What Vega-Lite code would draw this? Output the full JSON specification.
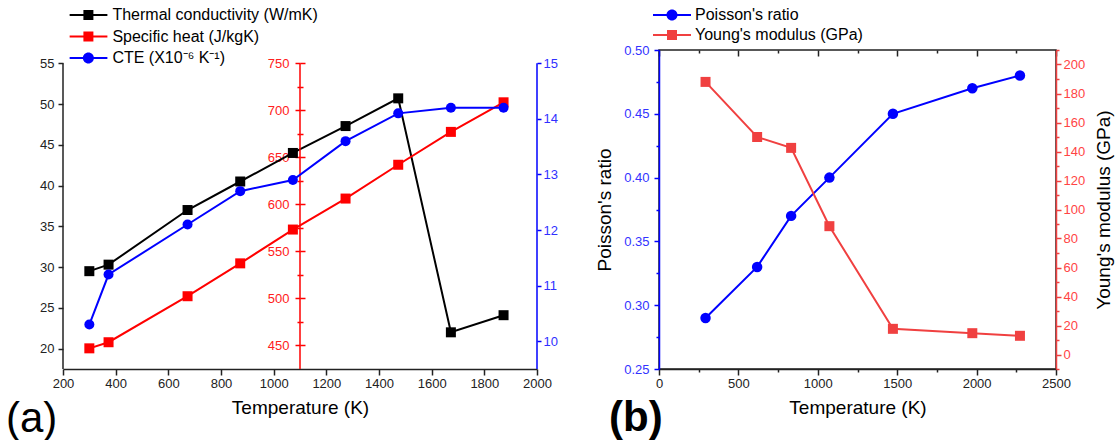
{
  "$schema": "https://vega.github.io/schema/vega-lite/v6.json",
  "padding": {"left": 6, "top": 4, "right": 0, "bottom": 0},
  "spacing": 36,
  "resolve": {"scale": {"color": "independent", "shape": "independent"}, "legend": {"color": "independent", "shape": "independent"}},
  "config": {
    "font": "Liberation Sans",
    "axis": {"grid": false, "labelFontSize": 13, "titleFontSize": 19, "titleFontWeight": "normal", "domainWidth": 1.5, "tickWidth": 1.5, "labelFlush": false, "labelOverlap": false},
    "legend": {"labelFont": "Liberation Sans", "labelLimit": 0}
  },
  "datasets": {
    "a": [
      {"T": 300, "series": "Thermal conductivity (W/mK)", "v": 29.5},
      {"T": 373, "series": "Thermal conductivity (W/mK)", "v": 30.3},
      {"T": 673, "series": "Thermal conductivity (W/mK)", "v": 37.0},
      {"T": 873, "series": "Thermal conductivity (W/mK)", "v": 40.5},
      {"T": 1073, "series": "Thermal conductivity (W/mK)", "v": 44.0},
      {"T": 1273, "series": "Thermal conductivity (W/mK)", "v": 47.3},
      {"T": 1473, "series": "Thermal conductivity (W/mK)", "v": 50.7},
      {"T": 1673, "series": "Thermal conductivity (W/mK)", "v": 22.0},
      {"T": 1873, "series": "Thermal conductivity (W/mK)", "v": 24.1},
      {"T": 300, "series": "Specific heat (J/kgK)", "v": 446.5},
      {"T": 373, "series": "Specific heat (J/kgK)", "v": 453},
      {"T": 673, "series": "Specific heat (J/kgK)", "v": 502},
      {"T": 873, "series": "Specific heat (J/kgK)", "v": 537},
      {"T": 1073, "series": "Specific heat (J/kgK)", "v": 573},
      {"T": 1273, "series": "Specific heat (J/kgK)", "v": 606},
      {"T": 1473, "series": "Specific heat (J/kgK)", "v": 642},
      {"T": 1673, "series": "Specific heat (J/kgK)", "v": 677},
      {"T": 1873, "series": "Specific heat (J/kgK)", "v": 708.5},
      {"T": 300, "series": "CTE (X10⁻⁶ K⁻¹)", "v": 10.3},
      {"T": 373, "series": "CTE (X10⁻⁶ K⁻¹)", "v": 11.2},
      {"T": 673, "series": "CTE (X10⁻⁶ K⁻¹)", "v": 12.1},
      {"T": 873, "series": "CTE (X10⁻⁶ K⁻¹)", "v": 12.7},
      {"T": 1073, "series": "CTE (X10⁻⁶ K⁻¹)", "v": 12.9},
      {"T": 1273, "series": "CTE (X10⁻⁶ K⁻¹)", "v": 13.6},
      {"T": 1473, "series": "CTE (X10⁻⁶ K⁻¹)", "v": 14.1},
      {"T": 1673, "series": "CTE (X10⁻⁶ K⁻¹)", "v": 14.2},
      {"T": 1873, "series": "CTE (X10⁻⁶ K⁻¹)", "v": 14.2}
    ],
    "b": [
      {"T": 293, "series": "Poisson's ratio", "v": 0.29},
      {"T": 618, "series": "Poisson's ratio", "v": 0.33},
      {"T": 832, "series": "Poisson's ratio", "v": 0.37},
      {"T": 1073, "series": "Poisson's ratio", "v": 0.40},
      {"T": 1473, "series": "Poisson's ratio", "v": 0.45},
      {"T": 1973, "series": "Poisson's ratio", "v": 0.47},
      {"T": 2273, "series": "Poisson's ratio", "v": 0.48},
      {"T": 293, "series": "Young's modulus (GPa)", "v": 188},
      {"T": 618, "series": "Young's modulus (GPa)", "v": 150},
      {"T": 832, "series": "Young's modulus (GPa)", "v": 142.5},
      {"T": 1073, "series": "Young's modulus (GPa)", "v": 88.5},
      {"T": 1473, "series": "Young's modulus (GPa)", "v": 17.7},
      {"T": 1973, "series": "Young's modulus (GPa)", "v": 14.7},
      {"T": 2273, "series": "Young's modulus (GPa)", "v": 12.9}
    ]
  },
  "hconcat": [
    {
      "width": 474,
      "height": 319,
      "view": {"stroke": null},
      "data": {"name": "a"},
      "title": {"text": "(a)", "orient": "bottom", "anchor": "start", "frame": "group", "fontSize": 42, "fontWeight": "normal", "dx": -57, "offset": -18, "color": "#000"},
      "layer": [
        {
          "layer": [
            {
              "transform": [{"filter": "datum.series === 'Thermal conductivity (W/mK)'"}],
              "mark": {"type": "line", "color": "#000", "strokeWidth": 2, "point": {"shape": "square", "size": 100, "filled": true, "color": "#000"}},
              "encoding": {
                "x": {"field": "T", "type": "quantitative", "scale": {"domain": [200, 2000], "nice": false, "zero": false},
                  "axis": {"title": "Temperature (K)", "titlePadding": 8, "format": "d", "values": [200,300,400,500,600,700,800,900,1000,1100,1200,1300,1400,1500,1600,1700,1800,1900,2000],
                    "labelExpr": "datum.value % 200 === 0 ? datum.label : ''",
                    "tickSize": {"condition": {"test": "datum.value % 200 === 0", "value": 6}, "value": 3},
                    "labelPadding": 2, "domainColor": "#222", "tickColor": "#222", "labelColor": "#222", "titleColor": "#000"}},
                "y": {"field": "v", "type": "quantitative", "scale": {"domain": [17.5, 56.63], "nice": false, "zero": false},
                  "axis": {"orient": "left", "title": null, "domain": false, "format": "d", "values": [20,22.5,25,27.5,30,32.5,35,37.5,40,42.5,45,47.5,50,52.5,55],
                    "labelExpr": "datum.value % 5 === 0 ? datum.label : ''",
                    "tickSize": {"condition": {"test": "datum.value % 5 === 0", "value": 5}, "value": 3},
                    "labelPadding": 4, "tickColor": "#222", "labelColor": "#222"}}
              }
            },
            {
              "data": {"values": [{}]},
              "mark": {"type": "rule", "color": "#222", "strokeWidth": 1.5},
              "encoding": {
                "x": {"datum": 200, "type": "quantitative"},
                "y": {"datum": 17.5, "type": "quantitative"},
                "y2": {"datum": 55}
              }
            }
          ]
        },
        {
          "layer": [
            {
              "transform": [{"filter": "datum.series === 'Specific heat (J/kgK)'"}],
              "mark": {"type": "line", "color": "#FF0000", "strokeWidth": 2, "point": {"shape": "square", "size": 100, "filled": true, "color": "#FF0000"}},
              "encoding": {
                "x": {"field": "T", "type": "quantitative"},
                "y": {"field": "v", "type": "quantitative", "scale": {"domain": [424.5, 764.2], "nice": false, "zero": false},
                  "axis": {"orient": "left", "offset": -237, "title": null, "domain": false, "format": "d", "values": [450,475,500,525,550,575,600,625,650,675,700,725,750],
                    "labelExpr": "datum.value % 50 === 0 ? datum.label : ''",
                    "tickSize": {"condition": {"test": "datum.value % 50 === 0", "value": 5}, "value": 3},
                    "labelPadding": 6, "tickColor": "#FF0000", "labelColor": "#FF2020"}}
              }
            },
            {
              "data": {"values": [{}]},
              "mark": {"type": "rule", "color": "#FF0000", "strokeWidth": 1.5},
              "encoding": {
                "x": {"datum": 1100, "type": "quantitative"},
                "y": {"datum": 424.5, "type": "quantitative",
                  "axis": {"orient": "right", "offset": -237, "title": null, "domain": false, "labels": false, "values": [450,475,500,525,550,575,600,625,650,675,700,725,750],
                    "tickSize": {"condition": {"test": "datum.value % 50 === 0", "value": 5}, "value": 3},
                    "tickColor": "#FF0000"}},
                "y2": {"datum": 750}
              }
            }
          ],
          "resolve": {"axis": {"y": "independent"}}
        },
        {
          "layer": [
            {
              "transform": [{"filter": "datum.series === 'CTE (X10⁻⁶ K⁻¹)'"}],
              "mark": {"type": "line", "color": "#0000FF", "strokeWidth": 2, "point": {"shape": "circle", "size": 100, "filled": true, "color": "#0000FF"}},
              "encoding": {
                "x": {"field": "T", "type": "quantitative"},
                "y": {"field": "v", "type": "quantitative", "scale": {"domain": [9.5, 15.24], "nice": false, "zero": false},
                  "axis": {"orient": "right", "title": null, "domain": false, "format": "d", "values": [10,10.5,11,11.5,12,12.5,13,13.5,14,14.5,15],
                    "labelExpr": "datum.value % 1 === 0 ? datum.label : ''",
                    "tickSize": {"condition": {"test": "datum.value % 1 === 0", "value": 4}, "value": 3},
                    "labelPadding": 2, "tickColor": "#0000FF", "labelColor": "#3030FF"}}
              }
            },
            {
              "data": {"values": [{}]},
              "mark": {"type": "rule", "color": "#0000FF", "strokeWidth": 1.5},
              "encoding": {
                "x": {"datum": 2000, "type": "quantitative"},
                "y": {"datum": 9.5, "type": "quantitative"},
                "y2": {"datum": 15}
              }
            }
          ]
        },
        {
          "data": {"values": []},
          "mark": {"type": "point", "filled": true, "size": 1444, "strokeWidth": 0, "opacity": 1},
          "encoding": {
            "color": {"field": "series", "type": "nominal",
              "scale": {"domain": ["Thermal conductivity (W/mK)", "Specific heat (J/kgK)", "CTE (X10⁻⁶ K⁻¹)"], "range": ["#000000", "#FF0000", "#0000FF"]},
              "legend": {"orient": "none", "legendX": 6.4, "legendY": -45, "title": null, "labelFontSize": 16, "labelColor": "#000", "labelOffset": 5, "labelLimit": 0, "clipHeight": 20, "rowPadding": 1.5, "symbolSize": 1444, "symbolStrokeWidth": 0}},
            "shape": {"field": "series", "type": "nominal",
              "scale": {"domain": ["Thermal conductivity (W/mK)", "Specific heat (J/kgK)", "CTE (X10⁻⁶ K⁻¹)"],
                "range": ["M-1,-0.053H1V0.053H-1ZM-0.263,-0.263H0.263V0.263H-0.263Z", "M-1,-0.053H1V0.053H-1ZM-0.263,-0.263H0.263V0.263H-0.263Z", "M-1,-0.053H1V0.053H-1ZM0.29,0A0.29,0.29,0,1,1,-0.29,0A0.29,0.29,0,1,1,0.29,0Z"]}}
          }
        }
      ],
      "resolve": {"scale": {"y": "independent"}}
    },
    {
      "width": 397,
      "height": 319,
      "view": {"stroke": "#222", "strokeWidth": 1.5},
      "data": {"name": "b"},
      "title": {"text": "(b)", "orient": "bottom", "anchor": "start", "frame": "group", "fontSize": 42, "fontWeight": "bold", "dx": -50, "offset": -19, "color": "#000"},
      "layer": [
        {
          "transform": [{"filter": "datum.series === \"Poisson's ratio\""}],
          "mark": {"type": "line", "color": "#0000FF", "strokeWidth": 2, "point": {"shape": "circle", "size": 110, "filled": true, "color": "#0000FF"}},
          "encoding": {
            "x": {"field": "T", "type": "quantitative", "scale": {"domain": [0, 2500], "nice": false, "zero": false},
              "axis": {"title": "Temperature (K)", "titlePadding": 8, "format": "d", "values": [0,250,500,750,1000,1250,1500,1750,2000,2250,2500],
                "labelExpr": "datum.value % 500 === 0 ? datum.label : ''",
                "tickSize": {"condition": {"test": "datum.value % 500 === 0", "value": 6}, "value": 3},
                "labelPadding": 2, "domainColor": "#222", "tickColor": "#222", "labelColor": "#222", "titleColor": "#000"}},
            "y": {"field": "v", "type": "quantitative", "scale": {"domain": [0.25, 0.5], "nice": false, "zero": false},
              "axis": {"orient": "left", "title": "Poisson's ratio", "titleColor": "#000", "titlePadding": 9, "format": ".2f",
                "values": [0.25,0.275,0.3,0.325,0.35,0.375,0.4,0.425,0.45,0.475,0.5],
                "labelExpr": "abs(datum.value*20 - round(datum.value*20)) < 1e-6 ? datum.label : ''",
                "tickSize": {"condition": {"test": "abs(datum.value*20 - round(datum.value*20)) < 1e-6", "value": 5}, "value": 3},
                "labelPadding": 5, "domainColor": "#0000FF", "tickColor": "#0000FF", "labelColor": "#3333FF"}}
          }
        },
        {
          "transform": [{"filter": "datum.series === \"Young's modulus (GPa)\""}],
          "mark": {"type": "line", "color": "#F04040", "strokeWidth": 2, "point": {"shape": "square", "size": 100, "filled": true, "color": "#F04040"}},
          "encoding": {
            "x": {"field": "T", "type": "quantitative",
              "axis": {"orient": "top", "title": null, "labels": false, "domain": false, "values": [0,250,500,750,1000,1250,1500,1750,2000,2250,2500],
                "tickSize": {"condition": {"test": "datum.value % 500 === 0", "value": -6}, "value": -3},
                "tickColor": "#222"}},
            "y": {"field": "v", "type": "quantitative", "scale": {"domain": [-10, 210], "nice": false, "zero": false},
              "axis": {"orient": "right", "title": "Young's modulus (GPa)", "titleColor": "#000", "titleAngle": -90, "titleBaseline": "top", "titlePadding": 10, "format": "d",
                "values": [-10,0,10,20,30,40,50,60,70,80,90,100,110,120,130,140,150,160,170,180,190,200,210],
                "labelExpr": "datum.value % 20 === 0 ? datum.label : ''",
                "tickSize": {"condition": {"test": "datum.value % 20 === 0", "value": 5}, "value": 3},
                "labelPadding": 2, "domainColor": "#F04040", "tickColor": "#F04040", "labelColor": "#FF4444"}}
          }
        },
        {
          "data": {"values": []},
          "mark": {"type": "point", "filled": true, "size": 1444, "strokeWidth": 0, "opacity": 1},
          "encoding": {
            "color": {"field": "series", "type": "nominal",
              "scale": {"domain": ["Poisson's ratio", "Young's modulus (GPa)"], "range": ["#0000FF", "#F04040"]},
              "legend": {"orient": "none", "legendX": -6, "legendY": -45, "title": null, "labelFontSize": 16, "labelColor": "#000", "labelOffset": 4, "labelLimit": 0, "clipHeight": 20, "rowPadding": 0, "symbolSize": 1444, "symbolStrokeWidth": 0}},
            "shape": {"field": "series", "type": "nominal",
              "scale": {"domain": ["Poisson's ratio", "Young's modulus (GPa)"],
                "range": ["M-1,-0.053H1V0.053H-1ZM0.29,0A0.29,0.29,0,1,1,-0.29,0A0.29,0.29,0,1,1,0.29,0Z", "M-1,-0.053H1V0.053H-1ZM-0.263,-0.263H0.263V0.263H-0.263Z"]}}
          }
        }
      ],
      "resolve": {"scale": {"y": "independent"}, "axis": {"x": "independent"}}
    }
  ]
}
